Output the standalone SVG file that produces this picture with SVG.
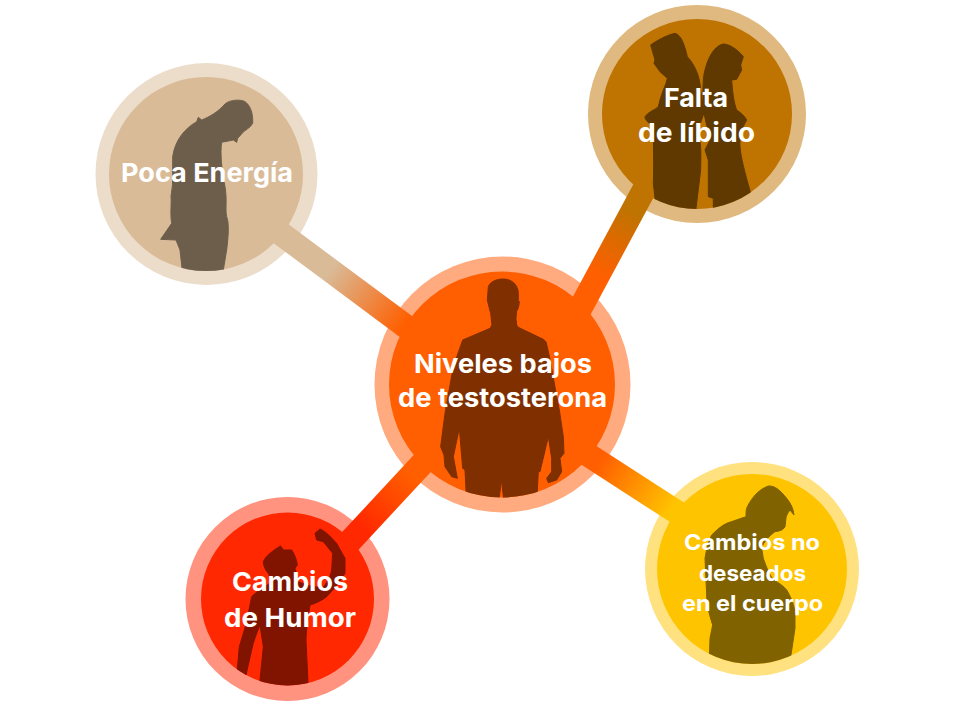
<svg xmlns="http://www.w3.org/2000/svg" width="980" height="707" viewBox="0 0 980 707">
<style>
text{font-family:"Inter","Open Sans","Liberation Sans",sans-serif;font-weight:700;fill:#fff;text-anchor:middle;font-size:26px}
.s{font-size:22px}
.b{fill:none;stroke-width:24}
.sil{stroke-width:3;stroke-linejoin:round}
</style>
<defs>
<linearGradient id="g1" gradientUnits="userSpaceOnUse" x1="330" y1="270" x2="404" y2="325"><stop offset="0" stop-color="#d9bb98"/><stop offset="1" stop-color="#ff5f00"/></linearGradient>
<linearGradient id="g2" gradientUnits="userSpaceOnUse" x1="632" y1="212" x2="598" y2="275"><stop offset="0" stop-color="#bf7300"/><stop offset="1" stop-color="#ff5f00"/></linearGradient>
<linearGradient id="g3" gradientUnits="userSpaceOnUse" x1="362" y1="528" x2="412" y2="475"><stop offset="0" stop-color="#ff2800"/><stop offset="1" stop-color="#ff5f00"/></linearGradient>
<linearGradient id="g4" gradientUnits="userSpaceOnUse" x1="600" y1="462" x2="672" y2="509"><stop offset="0" stop-color="#ff5f00"/><stop offset="1" stop-color="#ffc400"/></linearGradient>
<clipPath id="c1"><circle cx="206" cy="174" r="97"/></clipPath>
<clipPath id="c2"><circle cx="697" cy="114" r="95"/></clipPath>
<clipPath id="c3"><circle cx="287.500" cy="599" r="86.500"/></clipPath>
<clipPath id="c4"><circle cx="752" cy="569" r="95"/></clipPath>
<clipPath id="c5"><circle cx="502" cy="384.500" r="113"/></clipPath>
</defs>
<circle cx="206.500" cy="174" r="111" fill="#ecddcb"/>
<circle cx="697" cy="114" r="109" fill="#dfb97f"/>
<circle cx="287.500" cy="599" r="102" fill="#ff937f"/>
<circle cx="752" cy="569" r="107" fill="#ffe17f"/>
<circle cx="502.500" cy="384.500" r="128" fill="#ffab7f"/>
<g id="connectors">
<line class="b" x1="272" y1="227" x2="416" y2="334" stroke="url(#g1)"/>
<line class="b" x1="652" y1="175" x2="574" y2="320" stroke="url(#g2)"/>
<line class="b" x1="340" y1="552" x2="432" y2="453" stroke="url(#g3)"/>
<line class="b" x1="576" y1="447" x2="692" y2="522" stroke="url(#g4)"/>
</g>
<g id="node-energia">
<circle cx="206" cy="174" r="97" fill="#d9bb98"/>
<g clip-path="url(#c1)"><path class="sil" transform="translate(90 60) scale(.33333)" fill="#6d5e4c" stroke="#6d5e4c" d="M405 132C420 118 455 118 465 125C480 135 490 160 488 190C480 205 465 210 458 218L443 235L440 247L430 240L395 247C390 280 395 330 405 380C412 420 405 450 410 470C418 490 415 530 410 570L395 660L280 660L270 570L258 540L212 538L245 490C240 460 245 430 243 410C245 390 248 380 248 360L248 290C255 240 285 205 320 185L325 172L335 180C360 170 385 155 405 132Z"/></g>
<text x="207" y="181.700" textLength="172" lengthAdjust="spacingAndGlyphs">Poca Energía</text>
</g>
<g id="node-libido">
<circle cx="697" cy="114" r="95" fill="#bf7300"/>
<g clip-path="url(#c2)"><path class="sil" transform="translate(580 0) scale(.33333)" fill="#5f3900" stroke="#5f3900" d="M212 135C225 125 260 105 285 100C305 105 315 140 322 170C345 195 360 230 362 270L372 340C360 370 355 390 358 410C365 450 362 480 362 510L345 650L228 620L220 550C222 500 220 430 220 375C205 370 195 360 195 350C205 335 225 330 235 320C240 295 250 270 258 250L262 235L240 215L222 190L225 180Z"/>
<path class="sil" transform="translate(580 0) scale(.33333)" fill="#5f3900" stroke="#5f3900" d="M430 132C445 132 470 145 490 170L482 195L485 210L470 238L455 240C458 280 462 310 470 330C485 340 495 350 500 360C485 385 478 415 480 440C482 470 495 520 510 572L520 640L400 640L400 595L385 590L385 480L375 450L390 420L372 340C368 310 368 270 370 240C372 210 390 140 430 132Z"/></g>
<text x="696" y="106.700" textLength="64" lengthAdjust="spacingAndGlyphs">Falta</text>
<text x="696.500" y="141.700" textLength="117" lengthAdjust="spacingAndGlyphs">de líbido</text>
</g>
<g id="node-humor">
<circle cx="287.500" cy="599" r="86.500" fill="#ff2800"/>
<g clip-path="url(#c3)"><path class="sil" transform="translate(180 490) scale(.33333)" fill="#801400" stroke="#801400" d="M405 130L420 117C440 125 455 145 470 160C480 180 490 195 495 205L495 250C480 275 460 300 440 320C420 335 405 340 390 345C385 380 378 420 378 450L385 600L237 600L250 470L240 405C230 430 220 455 215 480L198 555L170 560L178 470C190 430 200 400 205 370L215 320C235 300 255 290 270 280C270 265 268 255 265 250C255 240 250 225 250 215C255 200 280 180 302 168L310 180L335 180C345 195 350 210 352 225L345 235L350 250L345 270C375 285 405 295 430 290C445 275 452 255 455 240L458 190L430 155L410 150Z"/></g>
<text x="290" y="591" textLength="116" lengthAdjust="spacingAndGlyphs">Cambios</text>
<text x="290" y="626.700" textLength="132" lengthAdjust="spacingAndGlyphs">de Humor</text>
</g>
<g id="node-cuerpo">
<circle cx="752" cy="569" r="95" fill="#ffc400"/>
<g clip-path="url(#c4)"><path class="sil" transform="translate(640 455) scale(.33333)" fill="#806200" stroke="#806200" d="M385 93C405 92 420 105 440 130C452 145 460 160 462 180L450 165C442 175 438 185 438 190L435 215C430 225 420 228 405 230C385 245 370 262 365 280L370 310C380 340 390 360 400 375C420 385 432 395 440 405C455 430 465 455 465 480L465 520L447 640L207 640L210 550L218 510C205 470 200 445 200 420L195 310C200 280 205 260 215 240C230 225 245 212 260 205L318 185C318 175 318 168 320 160C328 140 350 105 385 93Z"/></g>
<text class="s" x="752" y="550" textLength="136" lengthAdjust="spacingAndGlyphs">Cambios no</text>
<text class="s" x="752.500" y="580.700" textLength="107" lengthAdjust="spacingAndGlyphs">deseados</text>
<text class="s" x="752.500" y="611" textLength="141" lengthAdjust="spacingAndGlyphs">en el cuerpo</text>
</g>
<g id="node-centro">
<circle cx="502" cy="384.500" r="113" fill="#ff5f00"/>
<g clip-path="url(#c5)"><path class="sil" transform="translate(370 250) scale(.33333)" fill="#802f00" stroke="#802f00" d="M400 87C425 87 445 105 445 130L445 152L448 155C447 170 443 180 440 183L438 205L440 225L445 232L520 268L528 275C545 340 555 420 568 480L580 560L582 610L570 625L575 665L560 690L535 698L530 685L545 665L545 625L535 560L510 665L505 665L500 760L402 760L395 690L385 760L290 760L285 660L278 655L268 535L250 620L262 685L245 680L225 650L222 615L212 590L225 490L250 350L278 270L360 235L366 225L362 190L358 175L352 150L355 110C360 95 380 87 400 87Z"/></g>
<text x="503" y="372.700" textLength="178" lengthAdjust="spacingAndGlyphs">Niveles bajos</text>
<text x="502.500" y="407" textLength="209" lengthAdjust="spacingAndGlyphs">de testosterona</text>
</g>
</svg>
